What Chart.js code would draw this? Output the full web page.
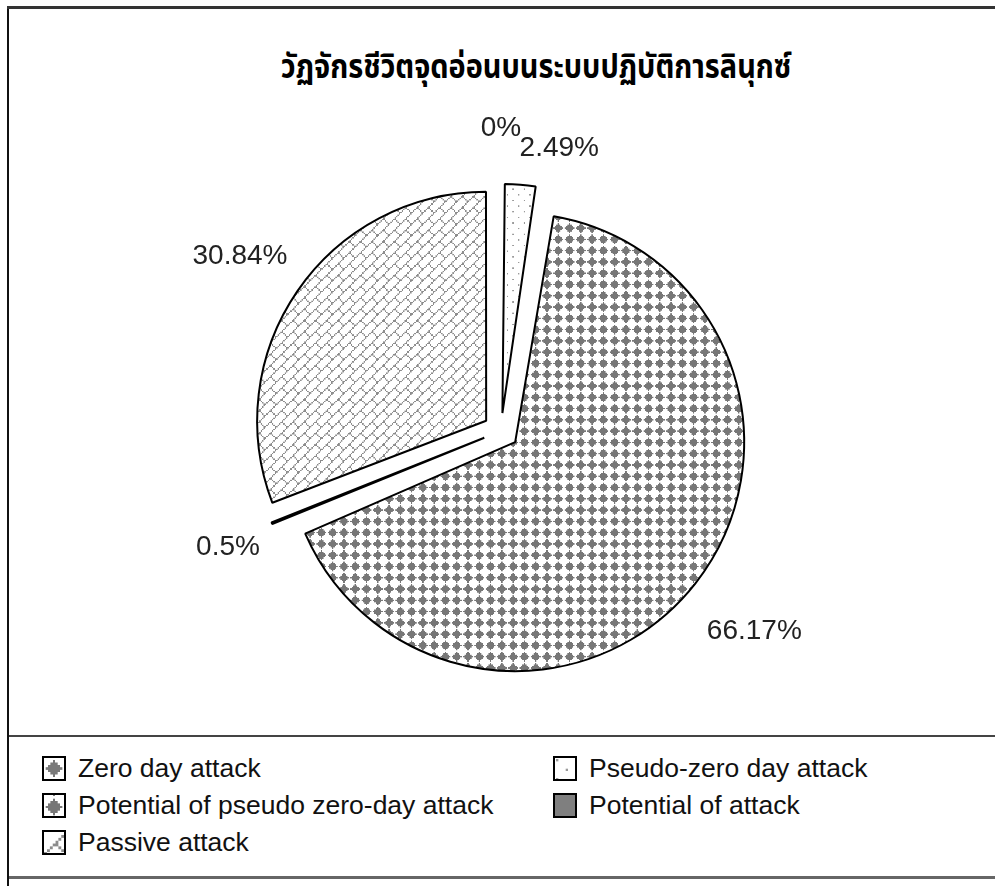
<!DOCTYPE html>
<html>
<head>
<meta charset="utf-8">
<script src="https://cdn.jsdelivr.net/npm/chart.js@4.4.1/dist/chart.umd.min.js"></script>
<style>
  html, body { margin: 0; padding: 0; background: #fff; }
  body { width: 995px; height: 886px; position: relative; overflow: hidden; font-family: "Liberation Sans", Arial, sans-serif; }
  #frameLeft { position: absolute; left: 7px; top: 6px; width: 2px; height: 880px; background: #111; }
  #frameTop { position: absolute; left: 7px; top: 6px; width: 988px; height: 3px; background: #333; }
  #sep { position: absolute; left: 9px; top: 735px; width: 986px; height: 2px; background: #444; }
  #bottomLine { position: absolute; left: 9px; top: 876px; width: 986px; height: 3px; background: #666; }
  #chartBox { position: absolute; left: 9px; top: 9px; width: 986px; height: 726px; }
  #title { position: absolute; left: 186px; width: 700px; top: 43px; text-align: center;
           font-family: "Noto Sans Thai", "Noto Sans", sans-serif; font-weight: bold; font-size: 33px; color: #000;
           transform: scaleX(0.875); white-space: nowrap; }
  .item { position: absolute; height: 25px; display: flex; align-items: center; font-size: 26.5px; color: #111; white-space: nowrap; }
  .item canvas { margin-right: 12px; }
</style>
</head>
<body>
<div id="frameLeft"></div>
<div id="frameTop"></div>
<div id="title">วัฏจักรชีวิตจุดอ่อนบนระบบปฏิบัติการลินุกซ์</div>
<div id="chartBox"><canvas id="pie" width="986" height="726"></canvas></div>
<div id="sep"></div>
<div id="legend"></div>
<div id="bottomLine"></div>

<script>
// data (percent of vulnerabilities)
const categories = [
    'Zero day attack',
    'Pseudo-zero day attack',
    'Potential of pseudo zero-day attack',
    'Potential of attack',
    'Passive attack'
];
const shares = [0, 2.49, 66.17, 0.5, 30.84];
const shareLabels = ['0%', '2.49%', '66.17%', '0.5%', '30.84%'];

// 8x8 hatch bitmaps, like the office fill patterns
const DIAMOND = [0x10, 0x38, 0x7C, 0xFE, 0x7C, 0x38, 0x10, 0x00];
const DOTS5 = [0x80, 0x00, 0x00, 0x00, 0x08, 0x00, 0x00, 0x00];
const BRICK = [0x01, 0x02, 0x04, 0x08, 0x18, 0x24, 0x42, 0x81];

function makePattern(bits, fg, scale, dx = 0, dy = 0) {
    const k = 4;
    const tile = document.createElement('canvas');
    tile.width = 8 * k;
    tile.height = 8 * k;
    const t = tile.getContext('2d');
    t.fillStyle = '#fff';
    t.fillRect(0, 0, 8 * k, 8 * k);
    t.fillStyle = fg;
    for (let r = 0; r < 8; r++) {
        for (let c = 0; c < 8; c++) {
            if (bits[r] & (0x80 >> c)) t.fillRect(c * k, r * k, k, k);
        }
    }
    const pat = document.createElement('canvas').getContext('2d').createPattern(tile, 'repeat');
    pat.setTransform(new DOMMatrix().translate(dx, dy).scale(scale / k));
    return pat;
}

const S = 1.41;
const fills = [
    makePattern(DIAMOND, '#7a7a7a', S),
    makePattern(DOTS5, '#9a9a9a', S),
    makePattern(DIAMOND, '#777', S),
    '#7f7f7f',
    makePattern(BRICK, '#8c8c8c', S)
];

// legend boxes show the same fills, drawn larger
const L = 2.4;
const swatchFills = [
    makePattern(DIAMOND, '#7a7a7a', L, 12 - 3.5 * L, 12.5 - 3.5 * L),
    makePattern(DOTS5, '#9a9a9a', L, 3, 3),
    makePattern(DIAMOND, '#777', L, 12 - 3.5 * L, 14 - 3.5 * L),
    '#7f7f7f',
    makePattern(BRICK, '#8c8c8c', L * 1.2, 2, 2)
];

// percentage labels around the pie
const labelDist = [303, 285, 318, 290, 313];
const labelNudge = [[0, 0], [36, 1], [3, 4], [-4, 8], [-3, 3]];

const pieLabels = {
    id: 'pieLabels',
    afterDatasetsDraw(chart) {
        const ctx = chart.ctx;
        const meta = chart.getDatasetMeta(0);
        ctx.save();
        ctx.font = '28px "Liberation Sans", Arial, sans-serif';
        ctx.fillStyle = '#222';
        ctx.textAlign = 'center';
        ctx.textBaseline = 'middle';
        meta.data.forEach((arc, i) => {
            const p = arc.getProps(['x', 'y', 'startAngle', 'endAngle'], true);
            const mid = (p.startAngle + p.endAngle) / 2;
            const x = p.x + Math.cos(mid) * labelDist[i] + labelNudge[i][0];
            const y = p.y + Math.sin(mid) * labelDist[i] + labelNudge[i][1];
            ctx.fillText(shareLabels[i], x, y);
        });
        ctx.restore();
    }
};

// chart.js grows small exploded slices; keep every slice at the same radius
const evenRadius = {
    id: 'evenRadius',
    beforeDatasetDraw(chart, args) {
        args.meta.data.forEach(arc => {
            const shift = (arc.options.offset || 0) / 4;
            const fix = 1 - Math.sin(Math.min(Math.PI, arc.circumference || 0));
            arc._fullRadius = arc.outerRadius;
            arc.outerRadius = arc.outerRadius - shift * fix;
        });
    },
    afterDatasetDraw(chart, args) {
        args.meta.data.forEach(arc => { arc.outerRadius = arc._fullRadius; });
    }
};

new Chart(document.getElementById('pie'), {
    type: 'pie',
    data: {
        labels: categories,
        datasets: [{
            data: shares,
            backgroundColor: fills,
            borderColor: '#000',
            borderWidth: 2,
            offset: 72,
            clip: false
        }]
    },
    options: {
        responsive: false,
        animation: false,
        radius: 229,
        layout: { padding: { left: 0, right: 2, top: 118, bottom: 0 } },
        plugins: {
            legend: { display: false },
            tooltip: { enabled: false },
            title: { display: false }
        }
    },
    plugins: [evenRadius, pieLabels]
});

// legend in two columns under the chart
const legendPos = [[42, 756], [553, 756], [42, 793], [553, 793], [42, 830]];
const legend = document.getElementById('legend');
categories.forEach((name, i) => {
    const item = document.createElement('div');
    item.className = 'item';
    item.style.left = legendPos[i][0] + 'px';
    item.style.top = legendPos[i][1] + 'px';
    const sw = document.createElement('canvas');
    sw.width = 24;
    sw.height = 25;
    const c = sw.getContext('2d');
    c.fillStyle = swatchFills[i];
    c.fillRect(0, 0, 24, 25);
    c.strokeStyle = '#000';
    c.lineWidth = 2;
    c.strokeRect(1, 1, 22, 23);
    item.appendChild(sw);
    item.appendChild(document.createTextNode(name));
    legend.appendChild(item);
});
</script>
</body>
</html>
